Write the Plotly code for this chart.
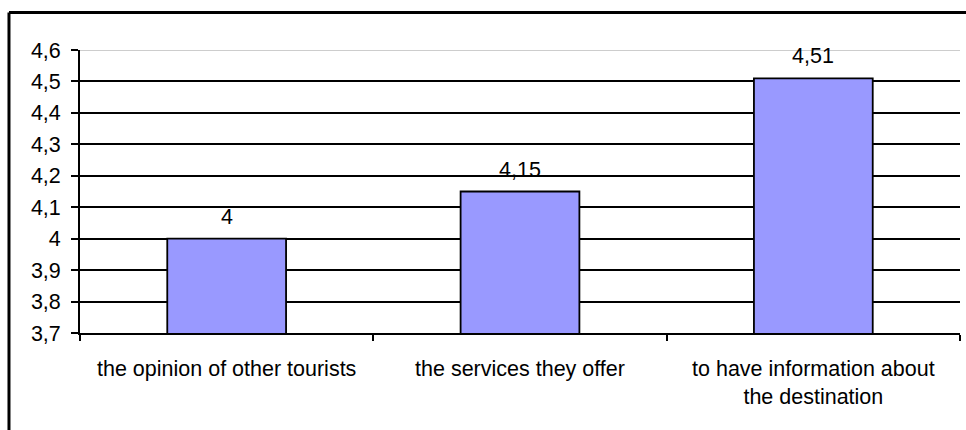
import plotly.graph_objects as go

# Mean importance scores per factor
categories = [
    "the opinion of other tourists",
    "the services they offer",
    "to have information about<br>the destination",
]
scores = [4.0, 4.15, 4.51]

# Y axis ticks, written with a decimal comma
y_ticks = [3.7, 3.8, 3.9, 4.0, 4.1, 4.2, 4.3, 4.4, 4.5, 4.6]
y_tick_labels = ["3,7", "3,8", "3,9", "4", "4,1", "4,2", "4,3", "4,4", "4,5", "4,6"]


def fmt(v):
    s = f"{v:.2f}".rstrip("0").rstrip(".")
    return s.replace(".", ",")


FONT = dict(family="Liberation Sans, Arial, sans-serif", size=21.5, color="black")

fig = go.Figure(
    go.Bar(
        x=categories,
        y=scores,
        width=0.405,
        marker=dict(color="#9999FF", line=dict(color="black", width=1.8)),
        hoverinfo="skip",
    )
)

# Value labels above each bar
for c, v in zip(categories, scores):
    fig.add_annotation(
        x=c, y=v, text=fmt(v), showarrow=False,
        yanchor="bottom", yshift=8, font=FONT,
    )

# Light plot-area edge along the top
fig.add_shape(
    type="line", xref="paper", yref="y", x0=0, x1=1, y0=4.6, y1=4.6,
    line=dict(color="#BDBDBD", width=1.5), layer="above",
)

# Chart frame (top and left edges)
fig.add_shape(
    type="line", xref="paper", yref="paper", x0=-0.0807, x1=1.05,
    y0=1.1325, y1=1.1325, line=dict(color="black", width=3), layer="above",
)
fig.add_shape(
    type="line", xref="paper", yref="paper", x0=-0.0807, x1=-0.0807,
    y0=1.1325, y1=-0.4, line=dict(color="black", width=3), layer="above",
)

fig.update_layout(
    width=966,
    height=430,
    margin=dict(l=80, r=6, t=50, b=97),
    paper_bgcolor="white",
    plot_bgcolor="white",
    font=FONT,
    showlegend=False,
    bargap=0.6,
)

fig.update_xaxes(
    type="category",
    showline=True, linecolor="black", linewidth=1.8,
    ticks="outside", tickson="boundaries", ticklen=6, tickwidth=1.6, tickcolor="black",
    showgrid=False,
    ticklabelstandoff=15,
    tickfont=FONT,
)

fig.update_yaxes(
    range=[3.7, 4.6],
    tickmode="array", tickvals=y_ticks, ticktext=y_tick_labels,
    showline=True, linecolor="black", linewidth=1.8,
    ticks="outside", ticklen=7, tickwidth=1.6, tickcolor="black",
    showgrid=True, gridcolor="black", gridwidth=1.7,
    zeroline=False,
    ticklabelstandoff=6,
    tickfont=FONT,
)

fig.write_html("out.html")
